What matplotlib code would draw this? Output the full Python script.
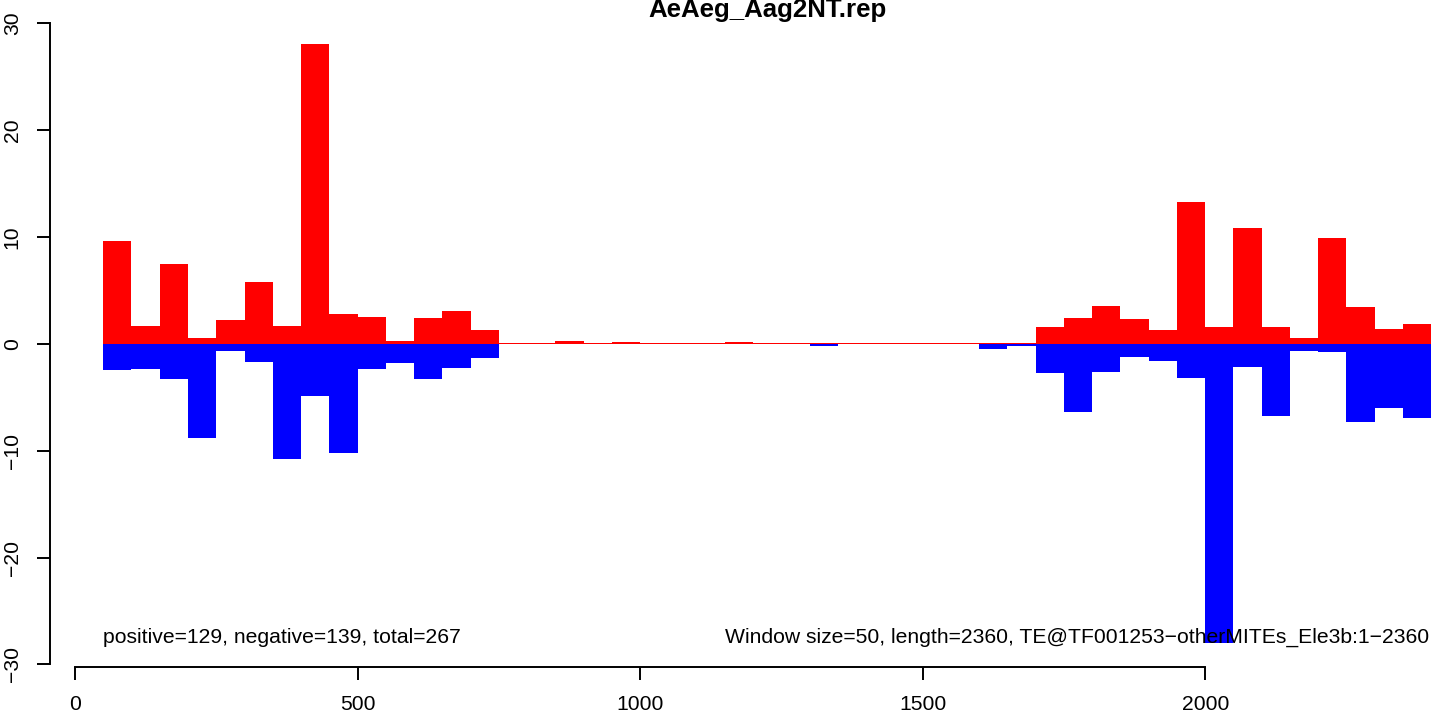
import numpy as np
import matplotlib
matplotlib.use('Agg')
import matplotlib.pyplot as plt

plt.rcParams['font.family'] = ['Liberation Sans', 'DejaVu Sans']
plt.rcParams['axes.unicode_minus'] = True

# window starts (window size 50)
window_size = 50
starts = np.arange(50, 2400, window_size)

positive = [9.6, 1.7, 7.5, 0.55, 2.2, 5.8, 1.7, 28.0, 2.8, 2.5, 0.25, 2.4, 3.05, 1.3,
            0.1, 0.1, 0.3, 0.06, 0.2, 0.06, 0.1, 0.02, 0.2, 0.06, 0.05, 0.02, 0.02, 0.1,
            0.06, 0.02, 0.02, 0.1, 0.1,
            1.55, 2.4, 3.55, 2.3, 1.3, 13.3, 1.55, 10.85, 1.55, 0.55, 9.9, 3.45, 1.4, 1.85]
negative = [-2.45, -2.4, -3.3, -8.8, -0.7, -1.7, -10.8, -4.9, -10.25, -2.4, -1.8, -3.3, -2.3, -1.35,
            -0.04, -0.04, -0.03, -0.03, -0.04, -0.03, -0.04, -0.07, -0.03, -0.03, -0.05, -0.23,
            -0.07, -0.03, -0.05, -0.07, -0.07, -0.53, -0.23,
            -2.7, -6.35, -2.65, -1.25, -1.6, -3.2, -28.0, -2.2, -6.75, -0.7, -0.8, -7.35, -6.0, -6.95]

title = 'AeAeg_Aag2NT.rep'
left_note = 'positive=129, negative=139, total=267'
right_note = 'Window size=50, length=2360, TE@TF001253\u2212otherMITEs_Ele3b:1\u22122360'

W, H = 1433, 712
fig = plt.figure(figsize=(W / 100, H / 100), dpi=100)

# pixel layout of the plot area
ax_left_px, ax_bottom_px = 50.1, 667
ax = fig.add_axes([ax_left_px / W, (H - ax_bottom_px) / H, (W - ax_left_px) / W, ax_bottom_px / H])

ax.bar(starts, positive, width=window_size, align='edge', color='#ff0000', linewidth=0)
ax.bar(starts, negative, width=window_size, align='edge', color='#0000ff', linewidth=0)

ax.set_xlim(-44, 2403.1)
ax.set_ylim(-30.24, 32.15)

ax.spines['top'].set_visible(False)
ax.spines['right'].set_visible(False)
ax.spines['left'].set_bounds(-30, 30)
ax.spines['bottom'].set_bounds(0, 2000)
ax.spines['left'].set_linewidth(1.4)
ax.spines['bottom'].set_linewidth(1.4)

ax.set_xticks(np.arange(0, 2001, 500))
ax.set_yticks(np.arange(-30, 31, 10))
ax.tick_params(axis='both', length=9.4, width=1.4, labelsize=15.2)
ax.tick_params(axis='x', pad=10.5)
ax.tick_params(axis='y', pad=11)
for lab in ax.get_yticklabels():
    lab.set_rotation(90)
    lab.set_va('center')

fig.text(767.5 / W, (H - 16.7) / H, title, ha='center', va='baseline',
         fontsize=18.6, fontweight='bold')

ax.text(50, -28.0, left_note, ha='left', va='baseline', fontsize=15.2)
ax.text(2397, -28.0, right_note, ha='right', va='baseline', fontsize=15.2)

fig.savefig('out.png', dpi=100)
